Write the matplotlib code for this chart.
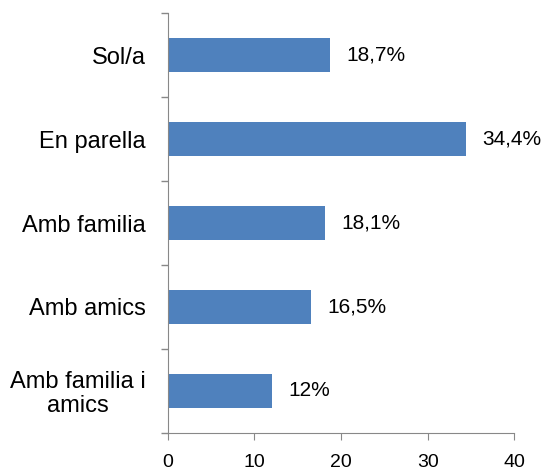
import matplotlib.pyplot as plt

plt.rcParams['font.family'] = ['Liberation Sans', 'DejaVu Sans']

categories = ['Sol/a', 'En parella', 'Amb familia', 'Amb amics', 'Amb familia i\namics']
values = [18.7, 34.4, 18.1, 16.5, 12.0]
labels = ['18,7%', '34,4%', '18,1%', '16,5%', '12%']

fig = plt.figure(figsize=(5.47, 4.7), dpi=100)
ax = fig.add_axes([0.307, 0.079, 0.633, 0.893])

pos = list(range(len(categories)))[::-1]
ax.barh(pos, values, height=0.4, color='#4F81BD')

for p, v, lab in zip(pos, values, labels):
    ax.annotate(lab, (v, p), xytext=(12, 0), textcoords='offset points',
                va='center', ha='left', fontsize=15)

ax.set_xlim(0, 40)
ax.set_ylim(-0.5, len(categories) - 0.5)
ax.set_xticks([0, 10, 20, 30, 40])
ax.set_yticks(pos)
ax.set_yticklabels(categories, fontsize=17, linespacing=1.1,
                   ha='right', multialignment='center')
ax.tick_params(axis='y', length=0, pad=16)
ax.set_yticks([i - 0.5 for i in range(len(categories) + 1)], minor=True)
ax.tick_params(axis='y', which='minor', length=5, color='#888888', width=1)
ax.tick_params(axis='x', length=5, color='#888888', labelsize=14, pad=10)

for s in ['top', 'right']:
    ax.spines[s].set_visible(False)
for s in ['left', 'bottom']:
    ax.spines[s].set_color('#888888')

fig.savefig('out.png', dpi=100)
